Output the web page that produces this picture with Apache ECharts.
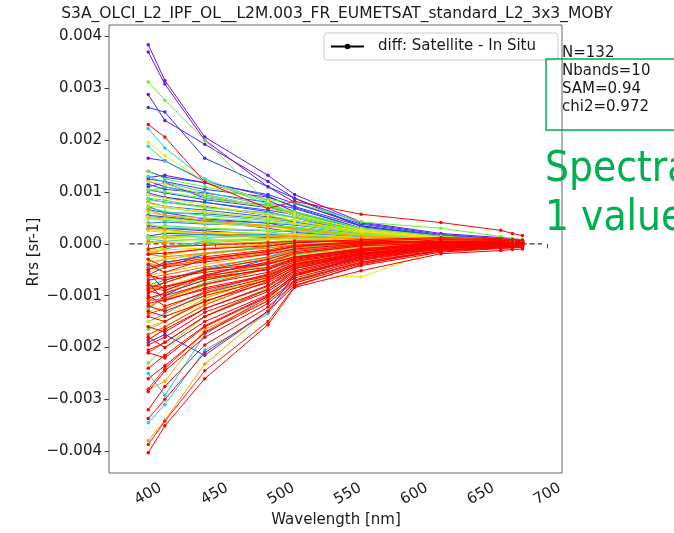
<!DOCTYPE html>
<html>
<head>
<meta charset="utf-8">
<script src="https://cdn.jsdelivr.net/npm/echarts@6/dist/echarts.min.js"></script>
<style>
html,body{margin:0;padding:0;background:#fff;}
#chart{width:674px;height:533px;}
</style>
</head>
<body>
<div id="chart"></div>
<script>
// OLCI band centres (nm)
const bands = [400, 412.5, 442.5, 490, 510, 560, 620, 665, 673.75, 681.25];
// x tick labels and y tick labels
const xTicks = [400, 450, 500, 550, 600, 650, 700];
const yTicks = [-0.004, -0.003, -0.002, -0.001, 0, 0.001, 0.002, 0.003, 0.004];
// zero reference line
const zeroX = [386, 696];
const zeroY = [0, 0];
// Rrs differences (Satellite - In Situ), in units of 1e-5 sr-1, one row per match-up (132 rows)
const diffE5 = [
[384,315,206,132,95,42,20,12,10,8],
[370,308,200,110,80,35,15,9,7,6],
[288,238,192,120,88,33,14,8,6,5],
[165,160,120,92,70,30,12,8,6,5],
[128,132,118,84,62,28,13,7,6,5],
[121,110,95,70,55,26,12,7,5,4],
[110,118,88,74,58,24,10,6,5,4],
[98,90,80,62,50,22,9,6,5,4],
[86,80,72,55,42,20,8,5,4,3],
[72,60,48,40,30,15,6,4,3,2],
[55,52,44,30,22,12,5,3,2,2],
[35,30,25,18,14,8,3,2,2,1],
[15,20,18,12,10,6,2,1,1,1],
[-60,-45,-20,-5,2,5,3,2,1,1],
[-125,-100,-62,-30,-12,-2,2,2,1,1],
[-190,-175,-215,-130,-60,-25,-5,0,0,-1],
[263,254,165,110,88,40,18,10,8,6],
[140,128,118,95,78,38,16,9,7,6],
[125,120,105,90,72,34,15,9,7,5],
[115,105,98,80,68,30,14,8,6,5],
[104,98,85,70,60,28,12,7,6,5],
[95,88,80,65,56,30,14,8,6,5],
[80,72,65,52,45,26,12,7,5,4],
[66,60,58,48,42,24,11,6,5,4],
[52,50,45,40,36,22,10,6,5,4],
[40,42,38,35,32,20,10,6,5,4],
[28,30,28,25,24,16,8,5,4,3],
[12,15,18,18,20,14,7,5,4,3],
[-20,-10,5,10,15,12,6,4,3,3],
[-45,-38,-20,-5,5,8,5,3,3,2],
[-80,-70,-48,-25,-8,4,4,3,2,2],
[-110,-95,-70,-40,-18,-2,3,2,2,1],
[-150,-135,-95,-58,-30,-10,0,1,1,0],
[-250,-292,-175,-100,-48,-18,-2,0,0,-1],
[-345,-310,-205,-135,-70,-30,-5,-2,-1,-2],
[10,5,10,20,28,18,9,6,5,4],
[222,185,125,80,58,28,12,7,6,5],
[188,160,122,76,55,24,10,6,5,4],
[130,118,100,74,62,30,14,8,6,5],
[102,110,92,72,60,26,12,7,6,5],
[88,84,70,60,52,24,11,7,5,4],
[70,62,55,45,40,20,9,6,5,4],
[50,45,40,34,30,18,8,5,4,3],
[30,35,30,26,26,15,7,5,4,3],
[15,12,15,15,18,12,6,4,3,3],
[-10,-5,2,8,12,9,5,3,3,2],
[-40,-30,-18,-5,4,6,4,3,2,2],
[-90,-75,-52,-28,-10,2,3,2,2,1],
[-125,-105,-75,-45,-22,-4,2,2,1,1],
[-165,-150,-105,-65,-35,-12,-1,0,0,0],
[-230,-200,-140,-85,-45,-18,-3,-1,0,-1],
[312,277,200,78,55,22,10,6,5,4],
[140,125,110,85,80,42,30,14,10,8],
[105,100,88,72,62,30,15,8,6,5],
[85,80,70,58,50,25,12,7,6,5],
[72,70,60,50,44,22,11,6,5,4],
[60,55,50,42,38,20,10,6,5,4],
[48,50,42,36,32,18,9,5,4,4],
[38,32,30,26,25,15,8,5,4,3],
[25,22,22,20,20,12,7,4,4,3],
[12,15,12,14,15,10,6,4,3,3],
[2,5,6,8,10,8,5,3,3,2],
[-13,-8,-2,4,8,7,5,3,3,2],
[-30,-22,-10,0,5,6,4,3,2,2],
[-55,-45,-30,-12,0,4,4,3,2,2],
[-80,-75,-52,-30,-12,0,3,2,2,1],
[-105,-95,-68,-40,-20,-4,2,2,1,1],
[-130,-120,-95,-70,-58,-64,-10,-4,-3,-2],
[-150,-140,-100,-62,-35,-12,-1,0,0,0],
[-185,-160,-115,-72,-42,-16,-2,0,0,0],
[95,88,75,55,45,24,11,7,5,4],
[196,170,120,82,58,26,12,7,6,5],
[120,115,95,70,55,28,13,8,6,5],
[78,72,62,48,40,22,10,6,5,4],
[52,48,40,32,28,16,8,5,4,3],
[28,25,22,20,18,12,6,4,3,3],
[8,10,8,10,12,9,5,3,3,2],
[-15,-12,-8,0,5,6,4,3,2,2],
[-35,-30,-20,-8,0,4,4,3,2,2],
[-60,-55,-40,-20,-5,2,3,2,2,1],
[-90,-82,-60,-35,-15,0,2,2,1,1],
[-120,-108,-80,-48,-25,-6,1,1,1,0],
[-160,-150,-105,-65,-38,-12,0,0,0,0],
[-282,-265,-165,-110,-58,-22,-3,-1,-1,-1],
[-380,-340,-232,-130,-75,-32,-8,-3,-2,-2],
[-15,-20,-10,-2,5,6,4,3,2,2],
[65,55,45,35,28,15,8,5,4,3],
[30,28,20,15,14,10,6,4,3,3],
[5,2,0,3,6,6,4,3,2,2],
[-20,-25,-18,-8,-2,3,3,2,2,2],
[-40,-42,-32,-18,-6,1,3,2,2,1],
[-65,-60,-45,-26,-12,-1,2,2,1,1],
[-85,-90,-65,-38,-20,-4,1,1,1,1],
[-110,-105,-78,-48,-28,-8,0,1,0,0],
[-135,-125,-92,-58,-34,-12,-1,0,0,0],
[-175,-160,-118,-72,-44,-18,-3,-1,-1,-1],
[-210,-190,-140,-88,-52,-22,-4,-1,-1,-1],
[-280,-240,-170,-105,-62,-26,-6,-2,-2,-2],
[-387,-342,-245,-150,-82,-40,-12,-6,-5,-4],
[-50,-35,-25,-12,-3,3,3,2,2,2],
[-10,-5,-3,2,5,5,4,3,2,2],
[230,206,119,68,82,57,41,26,20,16],
[-40,-55,-30,-15,-5,2,5,4,3,3],
[-55,-90,-60,-35,-18,-4,2,2,2,1],
[-70,-65,-55,-40,-25,-10,0,1,1,1],
[-90,-100,-78,-55,-35,-15,-3,0,0,0],
[-75,-110,-85,-60,-38,-18,-5,-1,-1,-1],
[-100,-120,-95,-65,-42,-20,-6,-2,-1,-1],
[-60,-70,-50,-38,-26,-10,2,3,2,2],
[-105,-95,-70,-48,-30,-12,0,1,1,1],
[-185,-165,-125,-80,-48,-20,-4,-1,-1,-1],
[-195,-180,-132,-88,-55,-25,-6,-2,-2,-2],
[-205,-190,-140,-92,-58,-28,-8,-3,-2,-2],
[-180,-200,-150,-98,-62,-30,-9,-4,-3,-3],
[-210,-220,-160,-102,-66,-32,-10,-5,-4,-3],
[-260,-235,-172,-110,-70,-35,-12,-6,-5,-4],
[-285,-245,-180,-115,-72,-36,-13,-7,-6,-5],
[-320,-275,-195,-122,-76,-38,-14,-8,-7,-6],
[-337,-300,-210,-130,-80,-42,-16,-9,-8,-7],
[-403,-351,-260,-156,-84,-52,-19,-13,-11,-10],
[-30,-45,-35,-20,-10,0,4,4,3,3],
[-80,-85,-62,-45,-28,-12,0,1,1,1],
[-120,-130,-100,-70,-45,-20,-4,-1,-1,-1],
[-140,-150,-110,-75,-48,-22,-5,-2,-1,-1],
[-160,-170,-125,-82,-52,-24,-6,-2,-2,-2],
[-85,-75,-50,-30,-15,-2,8,7,6,5],
[-50,-40,-28,-15,-5,5,10,8,7,6],
[-20,-18,-10,-4,2,8,12,10,8,7],
[-130,-140,-112,-68,-40,-15,5,6,5,4],
[-95,-82,-66,-50,-32,-14,-2,0,0,0],
[-240,-215,-158,-100,-60,-28,-7,-3,-2,-2],
[-115,-108,-88,-62,-40,-18,-4,-1,-1,-1]
];
const statLines = ['N=132', 'Nbands=10', 'SAM=0.94', 'chi2=0.972'];
const titleText = 'S3A_OLCI_L2_IPF_OL__L2M.003_FR_EUMETSAT_standard_L2_3x3_MOBY';
const legendName = 'diff: Satellite - In Situ';

const FONT = '"DejaVu Sans", sans-serif';
const GREEN = '#00b050';

// saturated rainbow palette (style only)
const palStops = [
  [0.00, [110, 20, 235]],
  [0.17, [40, 60, 245]],
  [0.32, [20, 200, 240]],
  [0.48, [90, 245, 40]],
  [0.66, [240, 240, 20]],
  [0.82, [255, 150, 0]],
  [0.95, [255, 10, 0]],
  [1.00, [255, 0, 0]]
];
function palette(t) {
  for (let k = 1; k < palStops.length; k++) {
    if (t <= palStops[k][0]) {
      const [t0, c0] = palStops[k - 1], [t1, c1] = palStops[k];
      const f = (t - t0) / (t1 - t0);
      const c = c0.map((v, m) => Math.round(v + (c1[m] - v) * f));
      return 'rgb(' + c.join(',') + ')';
    }
  }
  return 'rgb(255,0,0)';
}

const series = [];
series.push({
  type: 'line', name: 'zero', silent: true, symbol: 'none',
  data: zeroX.map((x, i) => [x, zeroY[i]]),
  lineStyle: { color: '#333', width: 1.3, type: [5, 3] }, z: 1
});
const n = diffE5.length;
diffE5.forEach((row, i) => {
  const c = palette(Math.min(1, 1.25 * i / (n - 1)));
  series.push({
    type: 'line', name: 's' + i, silent: true,
    symbol: 'circle', symbolSize: 3.5, showSymbol: true,
    data: bands.map((w, j) => [w, row[j] * 1e-5]),
    lineStyle: { color: c, width: 1 },
    itemStyle: { color: c },
    z: 2
  });
});
series.push({
  type: 'line', name: legendName, data: [], symbol: 'circle', symbolSize: 6,
  lineStyle: { color: '#000', width: 1.5 }, itemStyle: { color: '#000' }
});

const chart = echarts.init(document.getElementById('chart'), null, { renderer: 'canvas' });
chart.setOption({
  animation: false,
  backgroundColor: '#fff',
  grid: { left: 109, right: 112, top: 25, bottom: 60, show: true, borderColor: '#666', borderWidth: 1, backgroundColor: 'transparent' },
  legend: {
    data: [legendName], left: 324, top: 33,
    padding: [6, 22, 6, 6], itemWidth: 33, itemHeight: 7,
    borderColor: '#cccccc', borderWidth: 1, borderRadius: 3, backgroundColor: '#fff',
    textStyle: { fontFamily: FONT, fontSize: 15, color: '#1a1a1a', padding: [0, 0, 0, 9] }
  },
  xAxis: {
    type: 'value', min: 370.5, max: 711,
    splitLine: { show: false },
    axisLine: { show: false },
    axisTick: { show: true, length: 4.5, lineStyle: { color: '#444' }, customValues: xTicks },
    axisLabel: {
      customValues: xTicks, rotate: 30, align: 'center', verticalAlign: 'middle', margin: 21,
      fontFamily: FONT, fontSize: 15, color: '#1a1a1a', formatter: v => String(v)
    }
  },
  yAxis: {
    type: 'value', min: -0.00442, max: 0.00422,
    splitLine: { show: false },
    axisLine: { show: false },
    axisTick: { show: true, length: 4.5, lineStyle: { color: '#444' }, customValues: yTicks },
    axisLabel: {
      customValues: yTicks, margin: 7,
      fontFamily: FONT, fontSize: 15, color: '#1a1a1a',
      formatter: v => (Math.abs(v) < 1e-9 ? '0.000' : (v < 0 ? '\u2212' : '') + Math.abs(v).toFixed(3))
    }
  },
  series: series,
  graphic: [
    { type: 'text', x: 337, y: 14, style: { text: titleText, font: '15.5px ' + FONT, fill: '#1a1a1a', textAlign: 'center', textVerticalAlign: 'middle' } },
    { type: 'text', x: 336, y: 520, style: { text: 'Wavelength [nm]', font: '15px ' + FONT, fill: '#1a1a1a', textAlign: 'center', textVerticalAlign: 'middle' } },
    { type: 'text', x: 34, y: 252, rotation: Math.PI / 2, style: { text: 'Rrs [sr-1]', font: '15px ' + FONT, fill: '#1a1a1a', textAlign: 'center', textVerticalAlign: 'middle' } },
    { type: 'rect', shape: { x: 546, y: 59, width: 200, height: 71 }, style: { fill: 'none', stroke: GREEN, lineWidth: 1.5 }, z: 100 },
    ...statLines.map((t, i) => ({ type: 'text', x: 562, y: 53 + i * 18.2, z: 101, style: { text: t, font: '15px ' + FONT, fill: '#1a1a1a', textAlign: 'left', textVerticalAlign: 'middle' } })),
    { type: 'text', x: 545, y: 170, z: 101, style: { text: 'Spectra', font: '42px "Liberation Sans Narrow", "DejaVu Sans Condensed", sans-serif', fill: GREEN, textAlign: 'left', textVerticalAlign: 'middle' } },
    { type: 'text', x: 545, y: 219, z: 101, style: { text: '1 value f', font: '42px "Liberation Sans Narrow", "DejaVu Sans Condensed", sans-serif', fill: GREEN, textAlign: 'left', textVerticalAlign: 'middle' } }
  ]
});
</script>
</body>
</html>
